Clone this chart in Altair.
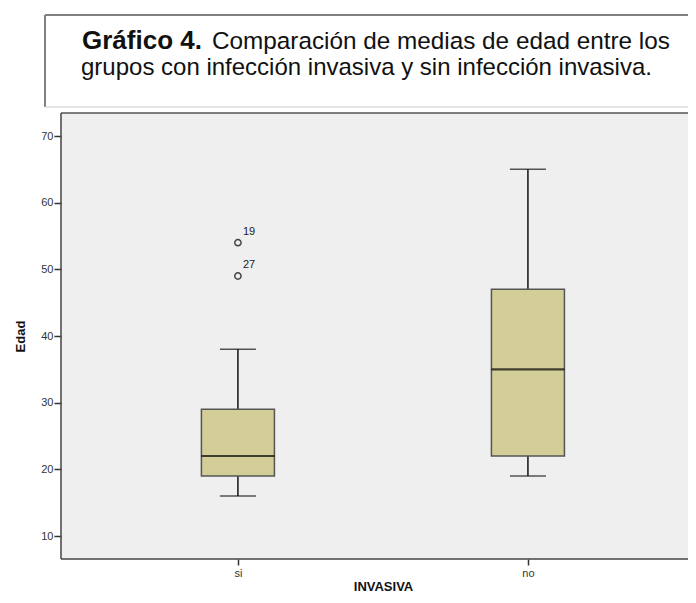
import altair as alt
import pandas as pd

# ---- data ----
groups = ["si", "no"]
q1 = [19, 22]
median = [22, 35]
q3 = [29, 47]
whisker_low = [16, 19]
whisker_high = [38, 65]

outlier_group = ["si", "si"]
outlier_value = [54, 49]
outlier_case = ["19", "27"]

title_bold = "Gráfico 4."
title_line1 = "Comparación de medias de edad entre los"
title_line2 = "grupos con infección invasiva y sin infección invasiva."

boxes = pd.DataFrame({
    "INVASIVA": groups, "q1": q1, "median": median, "q3": q3,
    "lo": whisker_low, "hi": whisker_high,
})
outliers = pd.DataFrame({"INVASIVA": outlier_group, "Edad": outlier_value, "caso": outlier_case})

FONT = "Liberation Sans"
W, H = 627, 446
xscale = alt.Scale(type="point", domain=groups, padding=0.581, align=0.525)
yscale = alt.Scale(domain=[6.55, 73.45], nice=False, zero=False)

xenc = alt.X("INVASIVA:N", scale=xscale, sort=groups,
             axis=alt.Axis(title="INVASIVA", domain=False, ticks=True, tickSize=6,
                           tickColor="#333", tickWidth=1.5, labelAngle=0,
                           labelFontSize=11, labelColor="#333", labelFont=FONT,
                           labelPadding=2, titleFont=FONT, titleFontSize=13,
                           titleFontWeight="bold", titleColor="#111",
                           titleX=322, titleY=31, titleBaseline="alphabetic",
                           grid=False))
yaxis = alt.Axis(title="Edad", values=[10, 20, 30, 40, 50, 60, 70], domain=False,
                 tickSize=7, tickColor="#333", tickWidth=1.5, labelFontSize=11,
                 labelColor="#333", labelFont=FONT, labelPadding=1,
                 titleFont=FONT, titleFontSize=13, titleFontWeight="bold",
                 titleColor="#111", titleX=-37, titleY=223, titleAngle=-90,
                 titleBaseline="alphabetic", grid=False)

base = alt.Chart(boxes)

lower_whisker = base.mark_rule(color="#111", strokeWidth=1.5).encode(
    x=xenc, y=alt.Y("lo:Q", scale=yscale, axis=yaxis), y2="q1:Q")
upper_whisker = base.mark_rule(color="#111", strokeWidth=1.5).encode(
    x=xenc, y=alt.Y("q3:Q", scale=yscale), y2="hi:Q")
cap_lo = base.mark_tick(color="#111", size=36, thickness=1.5, orient="horizontal").encode(
    x=xenc, y=alt.Y("lo:Q", scale=yscale))
cap_hi = base.mark_tick(color="#111", size=36, thickness=1.5, orient="horizontal").encode(
    x=xenc, y=alt.Y("hi:Q", scale=yscale))
box = base.mark_bar(size=73, color="#D3CE98", stroke="#555", strokeWidth=1.5).encode(
    x=xenc, y=alt.Y("q1:Q", scale=yscale), y2="q3:Q")
med = base.mark_tick(color="#000", size=73, thickness=2.2, orient="horizontal").encode(
    x=xenc, y=alt.Y("median:Q", scale=yscale))

out_pts = alt.Chart(outliers).mark_point(shape="circle", size=40, filled=False,
                                          color="#444", strokeWidth=1.5, opacity=1).encode(
    x=xenc, y=alt.Y("Edad:Q", scale=yscale))
out_lbl = alt.Chart(outliers).mark_text(align="left", baseline="middle", dx=5, dy=-11,
                                         fontSize=11, font=FONT, color="#222").encode(
    x=xenc, y=alt.Y("Edad:Q", scale=yscale), text="caso:N")

# ---- plot frame (left, top, bottom; right side runs off the page) ----
one = alt.Data(values=[{}])
b_left = alt.Chart(one).mark_rule(color="#444", strokeWidth=1.5).encode(
    x=alt.value(0), y=alt.value(0), y2=alt.value(H))
b_top = alt.Chart(one).mark_rule(color="#555", strokeWidth=1.5).encode(
    x=alt.value(0), x2=alt.value(W + 10), y=alt.value(0))
b_bottom = alt.Chart(one).mark_rule(color="#444", strokeWidth=1.5).encode(
    x=alt.value(0), x2=alt.value(W + 10), y=alt.value(H))

# ---- framed caption above the plot ----
frame_top = alt.Chart(one).mark_rule(color="#808080", strokeWidth=2).encode(
    x=alt.value(-16), x2=alt.value(W + 10), y=alt.value(-98))
frame_left = alt.Chart(one).mark_rule(color="#808080", strokeWidth=2).encode(
    x=alt.value(-16), y=alt.value(-98), y2=alt.value(-6))
frame_bottom = alt.Chart(one).mark_rule(color="#dddddd", strokeWidth=1.5).encode(
    x=alt.value(-16), x2=alt.value(W + 10), y=alt.value(-6))
cap_b = alt.Chart(one).mark_text(align="left", baseline="alphabetic", font=FONT,
                                 fontSize=26, fontWeight="bold", color="#111").encode(
    x=alt.value(21), y=alt.value(-64), text=alt.value(title_bold))
cap_1 = alt.Chart(one).mark_text(align="left", baseline="alphabetic", font=FONT,
                                 fontSize=24.3, color="#111").encode(
    x=alt.value(151), y=alt.value(-64), text=alt.value(title_line1))
cap_2 = alt.Chart(one).mark_text(align="left", baseline="alphabetic", font=FONT,
                                 fontSize=24, color="#111").encode(
    x=alt.value(20), y=alt.value(-38), text=alt.value(title_line2))

chart = alt.layer(
    lower_whisker, upper_whisker, cap_lo, cap_hi, box, med, out_pts, out_lbl,
    b_left, b_top, b_bottom,
    frame_top, frame_left, frame_bottom, cap_b, cap_1, cap_2,
).properties(
    width=W, height=H,
    autosize=alt.AutoSizeParams(type="none"),
    padding={"left": 53, "top": 105, "right": 0, "bottom": 36},
    background="white",
).configure_view(
    fill="#EFEFEF", strokeWidth=0,
)

chart.save("out.html", embed_options={"renderer": "svg", "actions": False})
